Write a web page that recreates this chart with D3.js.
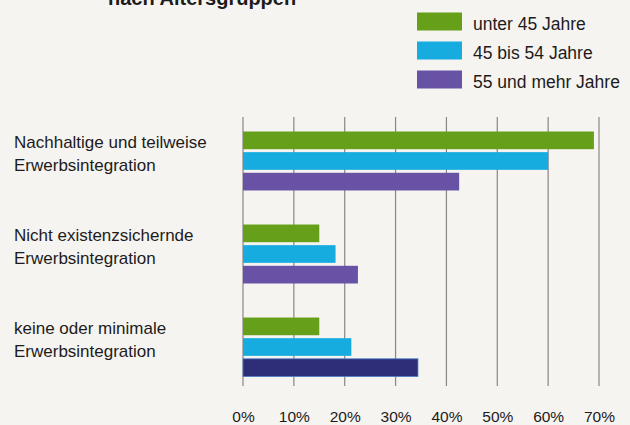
<!DOCTYPE html>
<html>
<head>
<meta charset="utf-8">
<script src="https://cdn.jsdelivr.net/npm/d3@7"></script>
<style>
  body { margin: 0; background: #f5f4f1; }
  svg { display: block; }
  text { font-family: "Liberation Sans", Arial, sans-serif; fill: #1e1b1b; }
</style>
</head>
<body>
<script>
// chart data
const title = "nach Altersgruppen";
const categories = [
  "Nachhaltige und teilweise\nErwerbsintegration",
  "Nicht existenzsichernde\nErwerbsintegration",
  "keine oder minimale\nErwerbsintegration"
];
const seriesNames = ["unter 45 Jahre", "45 bis 54 Jahre", "55 und mehr Jahre"];
const under45 = [0.69, 0.15, 0.15];
const from45to54 = [0.60, 0.182, 0.213];
const over55 = [0.425, 0.226, 0.344];
const tickValues = [0, 0.1, 0.2, 0.3, 0.4, 0.5, 0.6, 0.7];

const colors = ["#66a01a", "#16acdf", "#6752a6"];

const width = 630, height = 425;

const svg = d3.select("body").append("svg")
  .attr("width", width)
  .attr("height", height);

// scales
const x = d3.scaleLinear().domain([0, 0.7]).range([243, 599]);
const y = d3.scaleBand().domain(categories).range([131.5, 376.5]).paddingInner(0.366);
const ySub = d3.scaleBand().domain(seriesNames).range([0, y.bandwidth()]).paddingInner(0.143);

// title (cut off at top of the scan)
svg.append("text")
  .attr("x", 108).attr("y", 5)
  .style("font-size", "20px")
  .style("font-weight", "bold")
  .text(title);

// gridlines
svg.append("g").selectAll("line")
  .data(tickValues)
  .join("line")
    .attr("x1", d => x(d)).attr("x2", d => x(d))
    .attr("y1", 117).attr("y2", 386)
    .attr("stroke", "#8d8585")
    .attr("stroke-width", 1.2);

// bars
const rows = seriesNames.map((s, i) => ({
  name: s,
  color: colors[i],
  values: [under45, from45to54, over55][i]
}));

rows.forEach((r, si) => {
  svg.append("g").selectAll("rect")
    .data(categories.map((c, ci) => ({cat: c, ci: ci, v: r.values[ci]})))
    .join("rect")
      .attr("x", x(0))
      .attr("y", d => y(d.cat) + ySub(r.name))
      .attr("width", d => x(d.v) - x(0))
      .attr("height", ySub.bandwidth())
      // the last bar in the print came out darker
      .attr("fill", d => (si === 2 && d.ci === 2) ? "#2e2d78" : r.color)
      .attr("stroke", d => (si === 2 && d.ci === 2) ? "#4a7fc8" : "none")
      .attr("stroke-width", 0.8);
});

// category labels
const labels = svg.append("g").selectAll("text")
  .data(categories)
  .join("text")
    .attr("x", 14)
    .attr("y", d => y(d) + 16.5)
    .style("font-size", "17px");
labels.selectAll("tspan")
  .data(d => d.split("\n"))
  .join("tspan")
    .attr("x", 14)
    .attr("dy", (d, i) => i === 0 ? 0 : 22.5)
    .text(d => d);

// x axis
const xAxis = d3.axisBottom(x)
  .tickValues(tickValues)
  .tickFormat(d3.format(".0%"))
  .tickSize(0)
  .tickPadding(0);
const gx = svg.append("g")
  .attr("transform", "translate(0,411)")
  .call(xAxis);
gx.select(".domain").remove();
gx.selectAll("text")
  .style("font-family", "\"Liberation Sans\", Arial, sans-serif")
  .style("font-size", "15.5px")
  .attr("fill", "#1e1b1b");

// legend
const legend = svg.append("g").selectAll("g")
  .data(seriesNames)
  .join("g")
    .attr("transform", (d, i) => "translate(417," + (12.5 + i * 29) + ")");
legend.append("rect")
  .attr("width", 45)
  .attr("height", 18)
  .attr("fill", (d, i) => colors[i]);
legend.append("text")
  .attr("x", 56)
  .attr("y", 17.5)
  .style("font-size", "17.5px")
  .text(d => d);
</script>
</body>
</html>
